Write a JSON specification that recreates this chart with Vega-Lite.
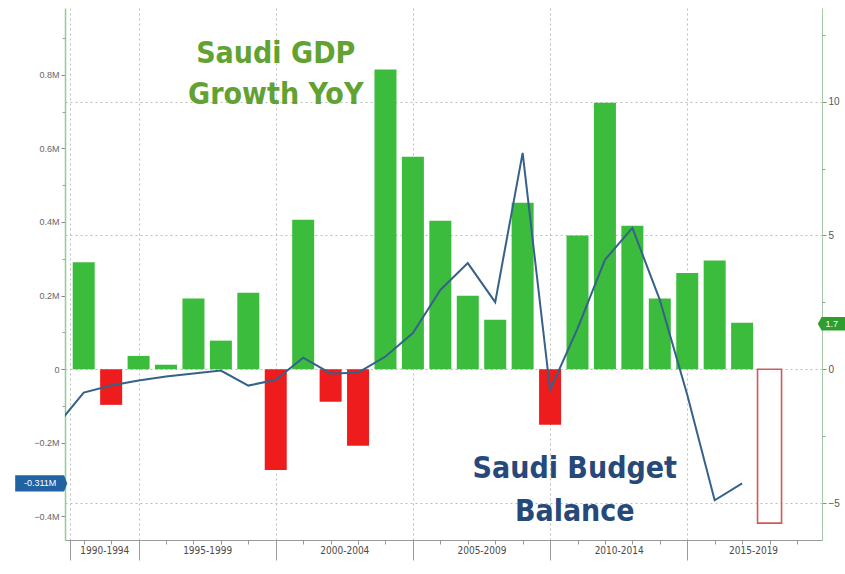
{
  "$schema": "https://vega.github.io/schema/vega-lite/v6.json",
  "width": 757,
  "height": 532,
  "autosize": {"type": "none"},
  "padding": {"left": 65, "top": 8, "right": 23, "bottom": 34},
  "background": "white",
  "config": {
    "view": {"stroke": null},
    "axis": {"labelFont": "Liberation Sans", "labelColor": "#666666", "labelFontSize": 9, "title": null}
  },
  "datasets": {
    "gdp": [
      {"year": 1992, "gdp": 4.0}, {"year": 1993, "gdp": -1.33}, {"year": 1994, "gdp": 0.5},
      {"year": 1995, "gdp": 0.17}, {"year": 1996, "gdp": 2.64}, {"year": 1997, "gdp": 1.07},
      {"year": 1998, "gdp": 2.86}, {"year": 1999, "gdp": -3.76}, {"year": 2000, "gdp": 5.59},
      {"year": 2001, "gdp": -1.21}, {"year": 2002, "gdp": -2.86}, {"year": 2003, "gdp": 11.2},
      {"year": 2004, "gdp": 7.94}, {"year": 2005, "gdp": 5.55}, {"year": 2006, "gdp": 2.75},
      {"year": 2007, "gdp": 1.85}, {"year": 2008, "gdp": 6.22}, {"year": 2009, "gdp": -2.07},
      {"year": 2010, "gdp": 5.0}, {"year": 2011, "gdp": 9.96}, {"year": 2012, "gdp": 5.36},
      {"year": 2013, "gdp": 2.64}, {"year": 2014, "gdp": 3.6}, {"year": 2015, "gdp": 4.06},
      {"year": 2016, "gdp": 1.74}
    ],
    "forecast": [{"year": 2017, "gdp": -5.75}],
    "budget": [
      {"year": 1991, "balance": -0.155}, {"year": 1992, "balance": -0.064}, {"year": 1993, "balance": -0.045},
      {"year": 1994, "balance": -0.031}, {"year": 1995, "balance": -0.02}, {"year": 1996, "balance": -0.012},
      {"year": 1997, "balance": -0.004}, {"year": 1998, "balance": -0.045}, {"year": 1999, "balance": -0.029},
      {"year": 2000, "balance": 0.031}, {"year": 2001, "balance": -0.012}, {"year": 2002, "balance": -0.01},
      {"year": 2003, "balance": 0.034}, {"year": 2004, "balance": 0.098}, {"year": 2005, "balance": 0.215},
      {"year": 2006, "balance": 0.288}, {"year": 2007, "balance": 0.182}, {"year": 2008, "balance": 0.588},
      {"year": 2009, "balance": -0.057}, {"year": 2010, "balance": 0.11}, {"year": 2011, "balance": 0.297},
      {"year": 2012, "balance": 0.384}, {"year": 2013, "balance": 0.188}, {"year": 2014, "balance": -0.07},
      {"year": 2015, "balance": -0.357}, {"year": 2016, "balance": -0.311}
    ],
    "gdpText": [
      {"year": 1999, "pos": 11.46, "label": "Saudi GDP"},
      {"year": 1999, "pos": 9.9, "label": "Growth YoY"}
    ],
    "budgetText": [
      {"year": 2009.9, "pos": -4.06, "label": "Saudi Budget"},
      {"year": 2009.9, "pos": -5.66, "label": "Balance"}
    ],
    "tagL": [{"year": 1990.45, "value": -0.311, "label": "-0.311M"}],
    "tagR": [{"year": 2019.38, "value": 1.7, "label": "1.7"}]
  },
  "layer": [
    {
      "layer": [
        {
          "data": {"name": "gdp"},
          "mark": {"type": "bar", "width": 22},
          "encoding": {
            "x": {"field": "year", "type": "quantitative",
                  "scale": {"domain": [1991.5, 2018.73], "nice": false, "zero": false},
                  "axis": {"orient": "bottom", "values": [1991.5, 1994, 1999, 2004, 2009, 2014], "labels": false,
                           "tickSize": 20, "tickColor": "#9a9a9a", "domainColor": "#9a9a9a",
                           "grid": true, "gridColor": "#bdbdbd", "gridDash": [2, 3], "gridWidth": 1}},
            "y": {"field": "gdp", "type": "quantitative",
                  "scale": {"domain": [-6.38, 13.5], "nice": false, "zero": false},
                  "axis": {"orient": "right", "values": [-5, 0, 5, 10], "tickSize": 4, "labelPadding": 2,
                           "tickColor": "#888888", "domainColor": "#a6c9a6", "labelFontSize": 10, "labelColor": "#555555",
                           "grid": true, "gridColor": "#bdbdbd", "gridDash": [2, 3], "gridWidth": 1}},
            "y2": {"datum": 0},
            "color": {"condition": {"test": "datum.gdp < 0", "value": "#ee1c1c"}, "value": "#3cbc3c"}
          }
        },
        {
          "data": {"name": "forecast"},
          "mark": {"type": "bar", "width": 24, "fillOpacity": 0, "stroke": "#d25a5a", "strokeWidth": 1.6},
          "encoding": {
            "x": {"field": "year", "type": "quantitative",
                  "axis": {"orient": "bottom", "values": [1992.75, 1996.5, 2001.5, 2006.5, 2011.5, 2016.4],
                           "ticks": false, "domain": false, "grid": false, "labelPadding": 5,
                           "labelFont": "DejaVu Sans Condensed", "labelFontSize": 10, "labelColor": "#4a4a4a",
                           "labelExpr": "toString(floor(datum.value/5)*5) + '-' + toString(floor(datum.value/5)*5+4)"}},
            "y": {"field": "gdp", "type": "quantitative",
                  "axis": {"orient": "right", "values": [-2.5, 2.5, 7.5, 12.5], "labels": false, "domain": false,
                           "grid": false, "tickSize": 3, "tickColor": "#a0a0a0"}},
            "y2": {"datum": 0}
          }
        },
        {
          "data": {"name": "gdpText"},
          "mark": {"type": "text", "font": "DejaVu Sans Condensed", "fontWeight": "bold", "fontSize": 30,
                   "color": "#62a233", "align": "center", "baseline": "alphabetic"},
          "encoding": {
            "x": {"field": "year", "type": "quantitative",
                  "axis": {"orient": "bottom", "values": [1992, 1993, 1994, 1995, 1996, 1997, 1998, 1999, 2000, 2001, 2002, 2003, 2004, 2005, 2006, 2007, 2008, 2009, 2010, 2011, 2012, 2013, 2014, 2015, 2016, 2017, 2018],
                           "labels": false, "domain": false, "grid": false, "tickSize": 4, "tickColor": "#9a9a9a"}},
            "y": {"field": "pos", "type": "quantitative", "axis": null},
            "text": {"field": "label"}
          }
        },
        {
          "data": {"name": "budgetText"},
          "mark": {"type": "text", "font": "DejaVu Sans Condensed", "fontWeight": "bold", "fontSize": 30,
                   "color": "#26497a", "align": "center", "baseline": "alphabetic"},
          "encoding": {
            "x": {"field": "year", "type": "quantitative", "axis": null},
            "y": {"field": "pos", "type": "quantitative", "axis": null},
            "text": {"field": "label"}
          }
        },
        {
          "data": {"name": "tagR"},
          "mark": {"type": "point", "shape": "M -1 0 L -0.78 -0.4 L 1 -0.4 L 1 0.4 L -0.78 0.4 Z",
                   "size": 1156, "filled": true, "color": "#2e9e2e", "opacity": 1, "strokeWidth": 0},
          "encoding": {
            "x": {"field": "year", "type": "quantitative", "axis": null},
            "y": {"field": "value", "type": "quantitative", "axis": null}
          }
        },
        {
          "data": {"name": "tagR"},
          "mark": {"type": "text", "font": "Liberation Sans", "fontSize": 9, "color": "white", "align": "center",
                   "baseline": "middle", "dx": -3},
          "encoding": {
            "x": {"field": "year", "type": "quantitative", "axis": null},
            "y": {"field": "value", "type": "quantitative", "axis": null},
            "text": {"field": "label"}
          }
        }
      ],
      "resolve": {"axis": {"x": "independent", "y": "independent"}}
    },
    {
      "layer": [
        {
          "data": {"name": "budget"},
          "mark": {"type": "line", "clip": true, "color": "#36628a", "strokeWidth": 2},
          "encoding": {
            "x": {"field": "year", "type": "quantitative", "axis": null},
            "y": {"field": "balance", "type": "quantitative",
                  "scale": {"domain": [-0.465, 0.982], "nice": false, "zero": false},
                  "axis": {"orient": "left", "values": [-0.4, -0.2, 0, 0.2, 0.4, 0.6, 0.8], "tickSize": 4,
                           "labelPadding": 2, "tickColor": "#888888", "domainColor": "#8fd08f", "domainWidth": 1.5,
                           "grid": false,
                           "labelExpr": "datum.value == 0 ? '0' : format(datum.value, '.1f') + 'M'"}}
          }
        },
        {
          "data": {"name": "tagL"},
          "mark": {"type": "point", "shape": "M -1 -0.31 L 0.88 -0.31 L 1 0 L 0.88 0.31 L -1 0.31 Z",
                   "size": 2704, "filled": true, "color": "#2162a3", "opacity": 1, "strokeWidth": 0},
          "encoding": {
            "x": {"field": "year", "type": "quantitative", "axis": null},
            "y": {"field": "value", "type": "quantitative",
                  "axis": {"orient": "left", "values": [-0.3, -0.1, 0.1, 0.3, 0.5, 0.7, 0.9], "labels": false,
                           "domain": false, "grid": false, "tickSize": 3, "tickColor": "#a0a0a0"}}
          }
        },
        {
          "data": {"name": "tagL"},
          "mark": {"type": "text", "font": "Liberation Sans", "fontSize": 9, "color": "white", "align": "center",
                   "baseline": "middle", "dx": -1},
          "encoding": {
            "x": {"field": "year", "type": "quantitative", "axis": null},
            "y": {"field": "value", "type": "quantitative", "axis": null},
            "text": {"field": "label"}
          }
        }
      ],
      "resolve": {"axis": {"x": "independent", "y": "independent"}}
    }
  ],
  "resolve": {"scale": {"y": "independent"}, "axis": {"x": "independent", "y": "independent"}}
}
